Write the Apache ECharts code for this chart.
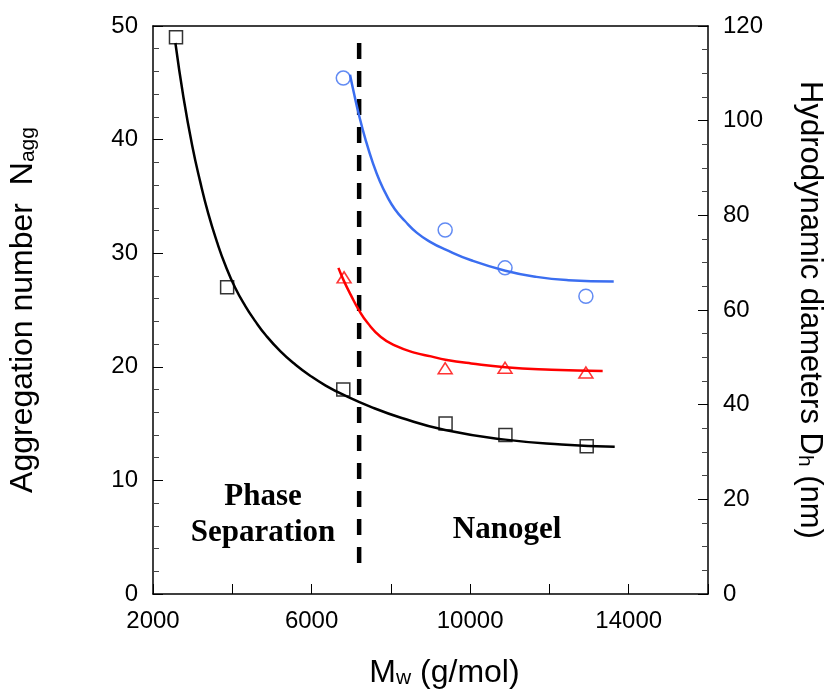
<!DOCTYPE html>
<html>
<head>
<meta charset="utf-8">
<script src="https://cdn.jsdelivr.net/npm/echarts@6/dist/echarts.min.js"></script>
<style>html,body{margin:0;padding:0;background:#fff}#c{width:832px;height:695px}</style>
</head>
<body>
<div id="c"></div>
<script>
// Measured points (Mw g/mol, value)
var naggPoints = [[2580,49],[3870,27],[6800,18],[9380,15],[10890,14],[12940,13]];
var dhSmallPoints = [[6820,66.9],[9370,47.7],[10880,47.8],[12920,46.8]];
var dhLargePoints = [[6800,109],[9370,76.9],[10880,68.9],[12920,62.9]];
// Fitted curves
var naggFit = [[2565,48.5],[2767,43.75],[2987,39.5],[3190,36.3],[3393,33.5],[3613,31.0],[3823,28.96],[4076,26.94],[4329,25.35],[4583,24.0],[4836,22.82],[5216,21.36],[5595,20.18],[5975,19.19],[6355,18.35],[6811,17.52],[7494,16.47],[8254,15.52],[9368,14.44],[10887,13.59],[12305,13.17],[13647,12.97]];
var dhSmallFit = [[6677,68.9],[6818,66.1],[6988,63.2],[7198,59.9],[7411,57.3],[7748,54.3],[8127,52.4],[8590,51.0],[9013,50.2],[9376,49.5],[10026,48.7],[10887,47.9],[12052,47.4],[13343,47.1]];
var dhLargeFit = [[6970,109.7],[7064,106.0],[7190,101.4],[7368,95.8],[7545,91.1],[7722,87.2],[7900,84.1],[8102,81.3],[8355,78.8],[8659,76.3],[9013,74.3],[9368,72.8],[10026,70.5],[10887,68.3],[11672,67.0],[12482,66.3],[13622,66.0]];
// Boundary between regions
var boundary = [[7200,48.5],[7200,2.7]];
var xTickLabels = [2000, 6000, 10000, 14000];

var chart = echarts.init(document.getElementById('c'), null, {renderer:'canvas'});
var fontSans = 'Liberation Sans, Arial, sans-serif';
var fontSerif = 'Liberation Serif, Times New Roman, serif';
var openSym = function(c){return {color:'rgba(0,0,0,0)', borderColor:c, borderWidth:1.5};};
var subStyle = {fontSize:21, fontFamily:fontSans, color:'#000', verticalAlign:'bottom', padding:[10,0,0,0]};

chart.setOption({
  animation:false,
  backgroundColor:'#fff',
  grid:{left:153, right:124, top:26, bottom:101, containLabel:false, outerBoundsMode:'none'},
  xAxis:[{
    type:'value', min:2000, max:16000, interval:2000,
    axisLine:{onZero:false, lineStyle:{color:'#000', width:1.5}},
    axisTick:{inside:true, length:10, lineStyle:{color:'#000', width:1}},
    splitLine:{show:false},
    axisLabel:{margin:15, color:'#000', fontSize:24, fontFamily:fontSans,
      formatter:function(v){return xTickLabels.indexOf(v)>=0 ? String(v) : '';}},
    name:'M{sub|w} (g/mol)', nameLocation:'middle', nameGap:63,
    nameTextStyle:{color:'#000', fontSize:32, fontFamily:fontSans, padding:[0,0,0,28], rich:{sub:subStyle}}
  },{
    type:'value', position:'top', min:2000, max:16000,
    axisLine:{show:true, onZero:false, lineStyle:{color:'#000', width:1.5}},
    axisTick:{show:false}, axisLabel:{show:false}, splitLine:{show:false}
  }],
  yAxis:[{
    type:'value', min:0, max:50, interval:10,
    axisLine:{show:true, onZero:false, lineStyle:{color:'#000', width:1.5}},
    axisTick:{inside:true, length:10, lineStyle:{color:'#000', width:1}},
    minorTick:{show:true, splitNumber:5, length:6, lineStyle:{color:'#444', width:1}},
    splitLine:{show:false}, minorSplitLine:{show:false},
    axisLabel:{margin:15, color:'#000', fontSize:24, fontFamily:fontSans},
    name:'Aggregation number  N{sub|agg}', nameLocation:'middle', nameRotate:90, nameGap:114,
    nameTextStyle:{color:'#000', fontSize:32, fontFamily:fontSans, rich:{sub:subStyle}}
  },{
    type:'value', min:0, max:120, interval:20, position:'right',
    axisLine:{show:true, onZero:false, lineStyle:{color:'#000', width:1.5}},
    axisTick:{inside:true, length:10, lineStyle:{color:'#000', width:1}},
    minorTick:{show:true, splitNumber:4, length:6, lineStyle:{color:'#444', width:1}},
    splitLine:{show:false}, minorSplitLine:{show:false},
    axisLabel:{margin:15, color:'#000', fontSize:24, fontFamily:fontSans},
    name:'Hydrodynamic diameters D{sub|h} (nm)', nameLocation:'middle', nameRotate:-90, nameGap:86,
    nameTextStyle:{color:'#000', fontSize:31, fontFamily:fontSans, rich:{sub:subStyle}}
  }],
  series:[
    {type:'line', data:boundary, showSymbol:false, symbol:'none', z:1,
      lineStyle:{color:'#000', width:4.5, type:[16,12]}},
    {type:'line', data:naggFit, smooth:0.5, showSymbol:false, symbol:'none',
      lineStyle:{color:'#000', width:2.5}},
    {type:'line', yAxisIndex:1, data:dhSmallFit, smooth:0.5, showSymbol:false, symbol:'none',
      lineStyle:{color:'#ff0000', width:2.5}},
    {type:'line', yAxisIndex:1, data:dhLargeFit, smooth:0.5, showSymbol:false, symbol:'none',
      lineStyle:{color:'#3b6ef0', width:2.5}},
    {type:'scatter', data:naggPoints, symbol:'rect', symbolSize:13, itemStyle:openSym('#000')},
    {type:'scatter', yAxisIndex:1, data:dhSmallPoints, symbol:'triangle', symbolSize:[14,11], itemStyle:openSym('#ff0000')},
    {type:'scatter', yAxisIndex:1, data:dhLargePoints, symbol:'circle', symbolSize:14, itemStyle:openSym('#3b6ef0')}
  ],
  graphic:[
    {type:'text', x:263, y:497, style:{text:'Phase', font:'bold 31px '+fontSerif, fill:'#000', textAlign:'center', textVerticalAlign:'middle'}},
    {type:'text', x:263, y:533, style:{text:'Separation', font:'bold 31px '+fontSerif, fill:'#000', textAlign:'center', textVerticalAlign:'middle'}},
    {type:'text', x:507, y:530, style:{text:'Nanogel', font:'bold 31px '+fontSerif, fill:'#000', textAlign:'center', textVerticalAlign:'middle'}}
  ]
});
</script>
</body>
</html>
